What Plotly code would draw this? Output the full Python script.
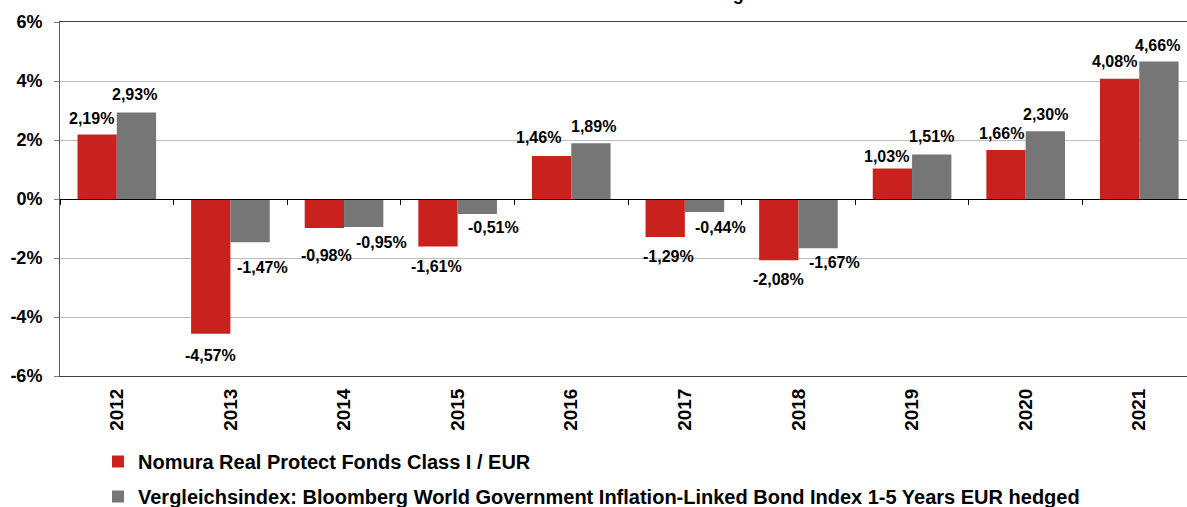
import plotly.graph_objects as go

years = ["2012", "2013", "2014", "2015", "2016", "2017", "2018", "2019", "2020", "2021"]
fund = [2.19, -4.57, -0.98, -1.61, 1.46, -1.29, -2.08, 1.03, 1.66, 4.08]
index = [2.93, -1.47, -0.95, -0.51, 1.89, -0.44, -1.67, 1.51, 2.30, 4.66]
fund_name = "Nomura Real Protect Fonds Class I / EUR"
index_name = "Vergleichsindex: Bloomberg World Government Inflation-Linked Bond Index 1-5 Years EUR hedged"
y_ticks = [-6, -4, -2, 0, 2, 4, 6]
y_ticklabels = ["-6%", "-4%", "-2%", "0%", "2%", "4%", "6%"]
title_text = "Wertentwicklung"

# label nudges (pixels) relative to the bar centre / bar end
fund_dx = [-6, 0, 2, -1, -13, 3, 0, -5.5, -5, -5]
fund_dy = [15.5, -21.2, -27.5, -19.7, 18.4, -19.7, -19.3, 12.1, 16.8, 17.3]
index_dx = [-1.5, 12, 18, 16.5, 3, 16, 16, 0, 0, -1]
index_dy = [17.6, -25.1, -15.3, -13, 17, -15.5, -14.2, 17.8, 16.7, 16]

RED = "#C9211E"
GRAY = "#767676"
FONT = "Liberation Sans, Arial, sans-serif"

W, H = 1187, 507
ML, MR, MT, MB = 60, 0, 22, 131
XR = [-0.5, 9.42]
BARGAP = 0.308
cat_px = (W - ML - MR) / (XR[1] - XR[0])
half = cat_px * (1 - BARGAP) / 4


def fmt(v):
    return f"{v:.2f}".replace(".", ",") + "%"


fig = go.Figure()
fig.add_trace(go.Bar(
    x=years, y=fund, name=fund_name, legendgroup="a",
    marker=dict(color=RED, line=dict(width=0)), hoverinfo="y",
))
fig.add_trace(go.Bar(
    x=years, y=index, name=index_name, legendgroup="b",
    marker=dict(color=GRAY, line=dict(width=0)), hoverinfo="y",
))
# helper trace for the tick marks on the zero line
fig.add_trace(go.Scatter(
    x=years, y=[0] * len(years), xaxis="x2", mode="markers",
    marker=dict(opacity=0), showlegend=False, hoverinfo="skip",
))

annotations = []
for vals, dxs, dys, sign in ((fund, fund_dx, fund_dy, -1), (index, index_dx, index_dy, 1)):
    for i, (v, dx, dy) in enumerate(zip(vals, dxs, dys)):
        annotations.append(dict(
            text=fmt(v), x=i, y=v, xref="x", yref="y",
            xshift=sign * half + dx, yshift=dy,
            xanchor="center", yanchor="middle", showarrow=False,
            font=dict(family=FONT, size=16, color="#000000", weight="bold"),
        ))

annotations.append(dict(
    text=title_text, xref="paper", yref="paper", x=(746 - ML) / (W - ML - MR), y=1.045,
    xanchor="right", yanchor="bottom", showarrow=False,
    font=dict(family=FONT, size=18, color="#000000", weight="bold"),
))

fig.update_layout(
    width=W, height=H,
    margin=dict(l=ML, r=MR, t=MT, b=MB, autoexpand=False),
    paper_bgcolor="white", plot_bgcolor="white",
    barmode="group", bargap=BARGAP, bargroupgap=0,
    font=dict(family=FONT, color="#000000"),
    showlegend=True,
    legend=dict(
        orientation="v", xref="container", x=98 / W, xanchor="left",
        yref="container", y=1 - 442 / H, yanchor="top",
        font=dict(family=FONT, size=20, color="#000000", weight="bold"),
        itemwidth=30, tracegroupgap=6, bgcolor="rgba(0,0,0,0)",
    ),
    xaxis=dict(
        type="category", range=XR, showgrid=False, showline=True, linecolor="#404040",
        linewidth=1, mirror=True, ticks="", tickangle=-90, automargin=False,
        tickfont=dict(family=FONT, size=19, color="#000000", weight="bold"),
        zeroline=False, ticklabelstandoff=4,
    ),
    xaxis2=dict(
        type="category", overlaying="x", matches="x", anchor="free", position=0.5,
        showline=True, linecolor="#000000", linewidth=1, ticks="outside",
        ticklen=5, tickcolor="#000000", tickson="boundaries", showticklabels=False,
        showgrid=False, zeroline=False, side="bottom", automargin=False,
    ),
    yaxis=dict(
        range=[-6, 6], tickvals=y_ticks, ticktext=y_ticklabels, automargin=False,
        showgrid=True, gridcolor="#BDBDBD", gridwidth=1,
        showline=True, linecolor="#595959", linewidth=1,
        ticks="outside", ticklen=5, tickcolor="#808080",
        tickfont=dict(family=FONT, size=18, color="#000000", weight="bold"),
        zeroline=True, zerolinecolor="#000000", zerolinewidth=1,
        ticklabelstandoff=8,
    ),
    annotations=annotations,
)

fig.write_html(
    "out.html",
    config={"displayModeBar": False},
    post_script="document.body.style.margin='0px';",
)
